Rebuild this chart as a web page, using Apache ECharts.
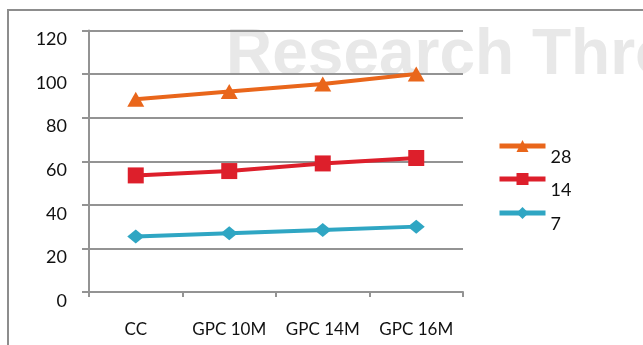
<!DOCTYPE html>
<html>
<head>
<meta charset="utf-8">
<script src="https://cdn.jsdelivr.net/npm/echarts@6/dist/echarts.min.js"></script>
<style>
  html, body { margin: 0; padding: 0; background: #fff; }
  #chart { width: 643px; height: 345px; }
</style>
</head>
<body>
<div id="chart"></div>
<script>
// Categories on the x axis
const categories = ['CC', 'GPC 10M', 'GPC 14M', 'GPC 16M'];

// One series per group size
const seriesNames = ['28', '14', '7'];
const values28 = [88.5, 92, 95.5, 100];
const values14 = [53.5, 55.5, 59, 61.5];
const values7 = [25.5, 27, 28.5, 30];

// Value axis ticks
const yTicks = [0, 20, 40, 60, 80, 100, 120];

const colors = ['#E9661B', '#DD1F2B', '#2FA6C3'];
const symbols = ['triangle', 'rect', 'diamond'];
const symbolSizes = [[17, 15], [16, 16], [17, 14]];
const seriesData = [values28, values14, values7];

const font = 'Lato, "Open Sans", sans-serif';
const gridColor = '#939393';

const chart = echarts.init(document.getElementById('chart'), null, { renderer: 'canvas' });

const legendTops = [124, 157, 191];

chart.setOption({
  animation: false,
  backgroundColor: '#ffffff',
  graphic: [
    {
      type: 'text',
      left: 226, top: 24, z: -10, silent: true,
      style: {
        text: 'Research Thro',
        font: 'bold 64px "Liberation Sans", Arial, sans-serif',
        fill: '#e8e8e8'
      }
    },
    {
      type: 'rect',
      shape: { x: 8, y: 10, width: 700, height: 400 },
      style: { fill: 'none', stroke: '#8d8d8d', lineWidth: 2 },
      z: -5, silent: true
    }
  ],
  legend: seriesNames.map((n, i) => ({
    data: [n],
    orient: 'vertical',
    left: 497,
    top: legendTops[i],
    padding: 0,
    itemWidth: 46,
    itemHeight: 15,
    formatter: '\n{name}',
    lineStyle: { width: 5 },
    textStyle: { fontFamily: font, fontSize: 18, color: '#111', lineHeight: 22 }
  })),
  grid: { left: 89, right: 180, top: 30.5, bottom: 53, containLabel: false },
  xAxis: {
    type: 'category',
    data: categories,
    boundaryGap: true,
    axisLine: { lineStyle: { color: gridColor, width: 2 } },
    axisTick: { show: true, length: 5, lineStyle: { color: gridColor, width: 2 } },
    axisLabel: { fontFamily: font, fontSize: 17, color: '#111', margin: 29, interval: 0 }
  },
  yAxis: {
    type: 'value',
    min: yTicks[0],
    max: yTicks[yTicks.length - 1],
    interval: yTicks[1] - yTicks[0],
    axisLine: { show: true, lineStyle: { color: gridColor, width: 2 } },
    axisTick: { show: true, length: 7, lineStyle: { color: gridColor, width: 2 } },
    splitLine: { lineStyle: { color: gridColor, width: 2 } },
    axisLabel: {
      fontFamily: font, fontSize: 18, color: '#111', margin: 22,
      verticalAlign: 'top'
    }
  },
  series: seriesNames.map((n, i) => ({
    name: n,
    type: 'line',
    data: seriesData[i],
    color: colors[i],
    symbol: symbols[i],
    symbolSize: symbolSizes[i],
    showAllSymbol: true,
    lineStyle: { width: 4, color: colors[i] },
    itemStyle: { color: colors[i] },
    z: 3 + (2 - i)
  }))
});
</script>
</body>
</html>
